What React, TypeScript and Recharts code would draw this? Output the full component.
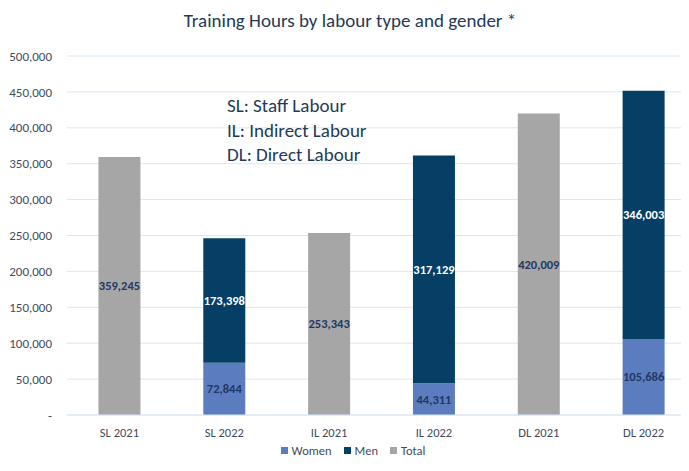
import React from 'react';
import { BarChart, Bar, XAxis, YAxis, CartesianGrid, LabelList } from 'recharts';

const categories = ['SL 2021', 'SL 2022', 'IL 2021', 'IL 2022', 'DL 2021', 'DL 2022'];
const women = [null, 72844, null, 44311, null, 105686];
const men = [null, 173398, null, 317129, null, 346003];
const total = [359245, null, 253343, null, 420009, null];
const yTicks = [0, 50000, 100000, 150000, 200000, 250000, 300000, 350000, 400000, 450000, 500000];
const notes = ['SL: Staff Labour', 'IL: Indirect Labour', 'DL: Direct Labour'];

const FONT = "Carlito, Lato, 'Open Sans', sans-serif";
const TEXT_DARK = '#1f3a56';
const AXIS_TEXT = '#3f4b5c';
const GRID = '#d8e7f5';

const COLORS = { women: '#5b7dc0', men: '#053f66', total: '#a6a6a6' };

const fmt = (v: any) => (v == null || v === 0 ? '' : Number(v).toLocaleString('en-US'));

export default function App() {
  const data = categories.map((c, i) => ({ name: c, women: women[i], men: men[i], total: total[i] }));

  return (
    <div style={{ margin: -8, position: 'relative', width: 689, height: 471, overflow: 'hidden', background: '#fff', fontFamily: FONT }}>
      <div style={{ position: 'absolute', left: 4, top: -2, width: 720, height: 468, border: '1px solid #d5e4f2' }} />
      <div style={{ position: 'absolute', left: 0, width: 700, top: 9, textAlign: 'center', fontSize: 19, color: TEXT_DARK }}>
        Training Hours by labour type and gender *
      </div>
      <BarChart
        width={700}
        height={471}
        data={data}
        margin={{ top: 56, right: 4, bottom: 26, left: 0 }}
        barCategoryGap="30%"
      >
        <CartesianGrid vertical={false} stroke={GRID} />
        <XAxis
          dataKey="name"
          stroke={GRID}
          tickLine={false}
          tickSize={0}
          tickMargin={13}
          height={30}
          tick={{ fill: AXIS_TEXT, fontSize: 12.5, fontFamily: FONT }}
        />
        <YAxis
          width={67}
          domain={[0, 500000]}
          ticks={yTicks}
          axisLine={false}
          tickLine={false}
          tickSize={0}
          tickMargin={15}
          tickFormatter={(v) => (v === 0 ? '-' : Number(v).toLocaleString('en-US'))}
          tick={{ fill: AXIS_TEXT, fontSize: 13, fontFamily: FONT }}
        />
        <Bar dataKey="women" stackId="a" fill={COLORS.women} isAnimationActive={false}>
          <LabelList dataKey="women" position="center" formatter={fmt} fill="#1f3864" fontSize={12.5} fontWeight="bold" fontFamily={FONT} />
        </Bar>
        <Bar dataKey="men" stackId="a" fill={COLORS.men} isAnimationActive={false}>
          <LabelList dataKey="men" position="center" formatter={fmt} fill="#ffffff" fontSize={12.5} fontWeight="bold" fontFamily={FONT} />
        </Bar>
        <Bar dataKey="total" stackId="a" fill={COLORS.total} isAnimationActive={false}>
          <LabelList dataKey="total" position="center" formatter={fmt} fill="#1f3864" fontSize={12.5} fontWeight="bold" fontFamily={FONT} />
        </Bar>
      </BarChart>
      <div style={{ position: 'absolute', left: 227, top: 94 }}>
        {notes.map((n) => (
          <div key={n} style={{ fontSize: 19, lineHeight: '24.5px', color: TEXT_DARK }}>{n}</div>
        ))}
      </div>
      <div style={{ position: 'absolute', left: 0, width: 706, top: 443, display: 'flex', justifyContent: 'center', gap: 12, fontSize: 12.5, color: AXIS_TEXT }}>
        {[
          ['Women', COLORS.women],
          ['Men', COLORS.men],
          ['Total', COLORS.total],
        ].map(([label, color]) => (
          <span key={label} style={{ display: 'flex', alignItems: 'center', gap: 4 }}>
            <span style={{ width: 7, height: 7, background: color, display: 'inline-block' }} />
            {label}
          </span>
        ))}
      </div>
    </div>
  );
}
